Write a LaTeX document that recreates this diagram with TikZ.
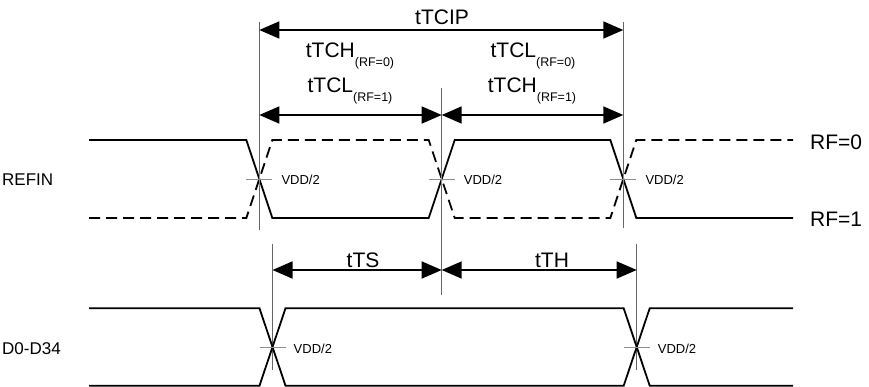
\documentclass[tikz,border=0pt]{standalone}
\usepackage{fontspec}
\setmainfont{Liberation Sans}
\usetikzlibrary{arrows.meta}
\begin{document}
\begin{tikzpicture}[x=1pt,y=-1pt,
  sig/.style={line width=1.8pt, line join=miter},
  dsig/.style={sig, dash pattern=on 11pt off 6pt},
  ext/.style={line width=0.8pt, draw=black!60},
  tickm/.style={line width=0.8pt, draw=black!45},
  dim/.style={line width=1.6pt, {Triangle[length=20pt,width=17pt]}-{Triangle[length=20pt,width=17pt]}},
  lbl/.style={font=\fontsize{21}{25}\selectfont, inner sep=0pt},
  sidelbl/.style={font=\fontsize{17}{20}\selectfont, inner sep=0pt, anchor=base west},
  vdd/.style={font=\fontsize{13}{15}\selectfont, inner sep=0pt, anchor=west},
]
\newcommand{\subl}[1]{\raisebox{-9pt}{\fontsize{12.5}{15}\selectfont #1}}
\useasboundingbox (0,0) rectangle (869,387);

% key coordinates
\def\xa{259.3}\def\xb{441.7}\def\xc{623.3}
\def\da{272.5}\def\db{636.7}
\def\hi{140}\def\lo{218}
\def\dhi{308.3}\def\dlo{385.7}

% extension lines
\coordinate (e1t) at (\xa,22);  \coordinate (e1b) at (\xa,230);
\coordinate (e2t) at (\xb,88);  \coordinate (e2b) at (\xb,295);
\coordinate (e3t) at (\xc,22);  \coordinate (e3b) at (\xc,228);
\coordinate (e4t) at (\da,244); \coordinate (e4b) at (\da,370);
\coordinate (e5t) at (\db,244); \coordinate (e5b) at (\db,370);
\draw[ext] (e1t) -- (e1b);
\draw[ext] (e2t) -- (e2b);
\draw[ext] (e3t) -- (e3b);
\draw[ext] (e4t) -- (e4b);
\draw[ext] (e5t) -- (e5b);

% dimension arrows
\coordinate (a1) at (\xa,30); \coordinate (a2) at (\xc,30);
\coordinate (b1) at (\xa,115); \coordinate (b2) at (\xb,115); \coordinate (b3) at (\xc,115);
\coordinate (c1) at (\da,270); \coordinate (c2) at (\xb,270); \coordinate (c3) at (\db,270);
\draw[dim] (a1) -- (a2);
\draw[dim] (b1) -- (b2);
\draw[dim] (b2) -- (b3);
\draw[dim] (c1) -- (c2);
\draw[dim] (c2) -- (c3);

% labels
\node[lbl, anchor=base] (tcip) at (442,25) {tTCIP};
\node[lbl, anchor=base] (tch0) at (350,58) {tTCH\subl{(RF=0)}};
\node[lbl, anchor=base] (tcl0) at (533,58) {tTCL\subl{(RF=0)}};
\node[lbl, anchor=base] (tcl1) at (350,93) {tTCL\subl{(RF=1)}};
\node[lbl, anchor=base] (tch1) at (532,93) {tTCH\subl{(RF=1)}};
\node[lbl, anchor=base] (tts) at (363,267) {tTS};
\node[lbl, anchor=base] (tth) at (552,267) {tTH};

\node[lbl, anchor=base west] (rf0) at (810,150) {RF=0};
\node[lbl, anchor=base west] (rf1) at (810,227) {RF=1};
\node[sidelbl] (refin) at (2,186) {REFIN};
\node[sidelbl] (dlbl) at (2,354) {D0-D34};

% REFIN signals
\draw[sig] (89,\hi) -- (\xa-13,\hi) -- (\xa+13,\lo) -- (\xb-13,\lo) -- (\xb+13,\hi) -- (\xc-13,\hi) -- (\xc+13,\lo) -- (793,\lo);
\draw[dsig] (89,\lo) -- (\xa-13,\lo) -- (\xa+13,\hi) -- (\xb-13,\hi) -- (\xb+13,\lo) -- (\xc-13,\lo) -- (\xc+13,\hi) -- (793,\hi);

% D signals
\draw[sig] (89,\dhi) -- (\da-13,\dhi) -- (\da+13,\dlo) -- (\db-13,\dlo) -- (\db+13,\dhi) -- (793,\dhi);
\draw[sig] (89,\dlo) -- (\da-13,\dlo) -- (\da+13,\dhi) -- (\db-13,\dhi) -- (\db+13,\dlo) -- (793,\dlo);

% VDD/2 ticks and labels
\foreach \x/\n in {\xa/p1,\xb/p2,\xc/p3}{
  \draw[tickm] (\x-13,179) -- (\x+13,179);
  \draw[tickm] (\x,172) -- (\x,186);
  \node[vdd] (v\n) at (\x+22,180) {VDD/2};
}
\foreach \x/\n in {\da/q1,\db/q2}{
  \draw[tickm] (\x-13,347) -- (\x+13,347);
  \node[vdd] (v\n) at (\x+21,349) {VDD/2};
}
\end{tikzpicture}
\end{document}
